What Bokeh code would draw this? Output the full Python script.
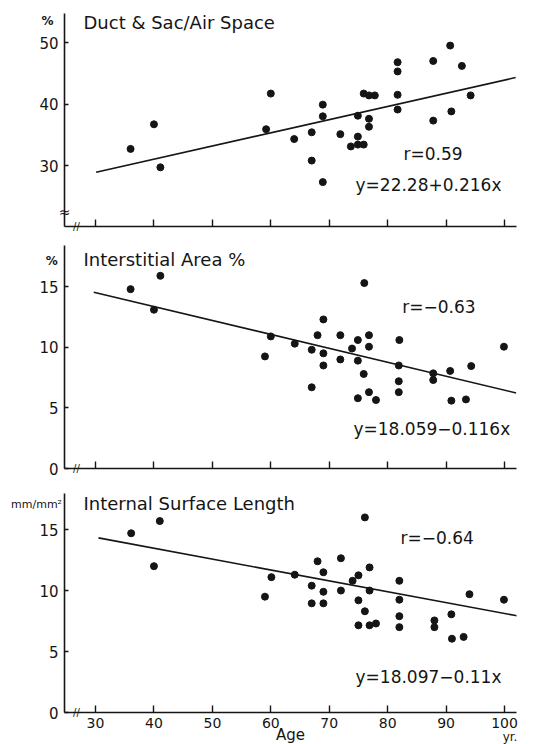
from bokeh.plotting import figure
from bokeh.layouts import column
from bokeh.models import Label, FixedTicker, Range1d, CustomLabelingPolicy
from bokeh.embed import file_html
from bokeh.resources import INLINE

# ---------------- data ----------------
x_ticks = [30, 40, 50, 60, 70, 80, 90, 100]
x_tick_labels = ["30", "40", "50", "60", "70", "80", "90", "100"]

# Panel 1: Duct & Sac / Air Space (%)
p1_age = [36.0, 40.0, 41.1, 59.2, 60.0, 64.0, 67.0, 67.0, 68.9, 68.9, 68.9,
          71.9, 73.7, 74.9, 75.9, 74.9, 74.9, 75.9, 76.8, 77.8, 76.8, 76.8,
          81.7, 81.7, 81.7, 81.7, 87.8, 87.8, 90.7, 90.9, 92.7, 94.2]
p1_val = [32.7, 36.7, 29.7, 35.9, 41.7, 34.3, 35.4, 30.8, 39.9, 38.0, 27.3,
          35.1, 33.1, 33.4, 33.4, 34.7, 38.1, 41.7, 41.4, 41.4, 37.6, 36.3,
          46.8, 45.3, 41.5, 39.1, 47.0, 37.3, 49.5, 38.8, 46.2, 41.4]
p1_fit_age = [30.1, 101.9]
p1_fit_val = [28.9, 44.3]
p1_y_ticks = [30, 40, 50]

# Panel 2: Interstitial Area (%)
p2_age = [36.0, 40.0, 41.1, 59.0, 60.0, 64.1, 67.0, 67.0, 68.0, 69.0, 69.0,
          69.0, 71.9, 71.9, 73.9, 74.9, 74.9, 74.9, 76.0, 75.9, 76.8, 76.8,
          76.8, 78.0, 82.0, 81.9, 81.9, 81.9, 87.8, 87.8, 90.7, 90.9, 93.4,
          94.3, 99.9]
p2_val = [14.8, 13.1, 15.9, 9.25, 10.9, 10.3, 9.8, 6.7, 11.0, 12.3, 9.5,
          8.5, 11.0, 9.0, 9.9, 10.6, 8.9, 5.8, 15.3, 7.8, 11.0, 10.05,
          6.3, 5.65, 10.6, 8.5, 7.2, 6.3, 7.85, 7.3, 8.05, 5.6, 5.7,
          8.45, 10.05]
p2_fit_age = [29.7, 102.0]
p2_fit_val = [14.55, 6.23]
p2_y_ticks = [0, 5, 10, 15]

# Panel 3: Internal Surface Length (mm/mm2)
p3_age = [36.1, 40.0, 41.0, 59.0, 60.1, 64.1, 67.0, 67.0, 68.0, 69.0, 69.0,
          69.0, 72.0, 72.0, 74.0, 75.0, 75.0, 75.0, 76.1, 76.1, 76.9, 76.9,
          76.9, 78.0, 82.0, 82.0, 82.0, 82.0, 88.0, 88.0, 90.9, 91.0, 93.0,
          94.0, 99.9]
p3_val = [14.7, 12.0, 15.7, 9.5, 11.1, 11.3, 10.4, 8.95, 12.4, 11.5, 9.9,
          8.95, 12.65, 10.0, 10.8, 11.25, 9.2, 7.15, 16.0, 8.3, 11.9, 10.0,
          7.15, 7.3, 10.8, 9.25, 7.9, 7.0, 7.55, 7.0, 8.05, 6.05, 6.2,
          9.7, 9.25]
p3_fit_age = [30.5, 102.4]
p3_fit_val = [14.32, 7.91]
p3_y_ticks = [0, 5, 10, 15]

titles = ["Duct & Sac/Air Space", "Interstitial Area %", "Internal Surface Length"]
units = ["%", "%", "mm/mm²"]
r_texts = ["r=0.59", "r=−0.63", "r=−0.64"]
eq_texts = ["y=22.28+0.216x", "y=18.059−0.116x", "y=18.097−0.11x"]
x_label = "Age"
x_unit = "yr."

# ---------------- styling ----------------
FONT = "DejaVu Sans"
INK = "#151515"
X_START, X_END = 24.69, 102.05


def add_text(p, x, y, text, size, align="left", baseline="middle", style="normal",
             place="center"):
    lab = Label(x=x, y=y, text=text, text_font=FONT, text_font_size=size,
                text_font_style=style, text_color=INK, text_align=align,
                text_baseline=baseline)
    p.add_layout(lab, place)


def build(age, val, fit_age, fit_val, y_range, y_ticks, frame_h, top, bottom, last):
    p = figure(title=None, frame_width=452, frame_height=frame_h,
               x_range=Range1d(X_START, X_END), y_range=Range1d(*y_range),
               output_backend="svg", toolbar_location=None,
               min_border_left=64, min_border_right=20,
               min_border_top=top, min_border_bottom=bottom,
               background_fill_color="white", border_fill_color="white")
    p.outline_line_color = None
    p.grid.visible = False
    p.line(fit_age, fit_val, line_color=INK, line_width=1.6)
    p.scatter(age, val, size=7, fill_color=INK, line_color=INK)
    for ax in (p.xaxis[0], p.yaxis[0]):
        ax.axis_line_color = INK
        ax.axis_line_width = 1.6
        ax.major_tick_line_color = INK
        ax.major_tick_line_width = 1.4
        ax.minor_tick_line_color = None
        ax.major_tick_out = 0
        ax.major_label_text_font = FONT
        ax.major_label_text_color = INK
    p.xaxis.ticker = FixedTicker(ticks=x_ticks)
    p.xaxis.major_tick_in = 7
    if last:
        p.xaxis.major_label_overrides = {t: s for t, s in zip(x_ticks, x_tick_labels)}
        p.xaxis.major_label_text_font_size = "14px"
        p.xaxis.major_label_standoff = 5
        p.xaxis.axis_label = x_label
        p.xaxis.axis_label_text_font = FONT
        p.xaxis.axis_label_text_font_size = "15px"
        p.xaxis.axis_label_text_font_style = "normal"
        p.xaxis.axis_label_text_color = INK
        p.xaxis.axis_label_standoff = -5
    else:
        # ticks only: no tick labels on the upper panels
        p.xaxis.major_label_policy = CustomLabelingPolicy(code="return []")
        p.xaxis.major_label_text_font_size = "2px"
        p.xaxis.major_label_standoff = 0
    p.yaxis.ticker = FixedTicker(ticks=y_ticks)
    p.yaxis.major_tick_in = 4
    p.yaxis.major_label_text_font_size = "15px"
    p.yaxis.major_label_standoff = 6
    return p


# panel 1
f1 = build(p1_age, p1_val, p1_fit_age, p1_fit_val, (20.08, 54.72), p1_y_ticks, 213, 13, 10, False)
add_text(f1, 27.94, 53.25, titles[0], "18px")
add_text(f1, 82.7, 31.8, r_texts[0], "17px")
add_text(f1, 74.5, 26.75, eq_texts[0], "17px")
add_text(f1, 21.78, 53.42, units[0], "12px", align="center", style="bold", place="left")
add_text(f1, X_START, 22.36, "≈", "14px", align="center", place="left")
add_text(f1, 26.74, 20.08, "//", "10px", align="center", place="left")

# panel 2
f2 = build(p2_age, p2_val, p2_fit_age, p2_fit_val, (0, 18.40), p2_y_ticks, 223, 9, 12, False)
add_text(f2, 27.94, 17.25, titles[1], "18px")
add_text(f2, 82.5, 13.32, r_texts[1], "17px")
add_text(f2, 74.15, 3.24, eq_texts[1], "17px")
add_text(f2, 22.5, 17.1, units[1], "12px", align="center", style="bold", place="left")
add_text(f2, 26.74, 0, "//", "10px", align="center", place="left")

# panel 3 (texts outside its frame go in side panels, where they are not clipped)
f3 = build(p3_age, p3_val, p3_fit_age, p3_fit_val, (0, 17.96), p3_y_ticks, 219, 13, 32, True)
add_text(f3, 27.94, 17.13, titles[2], "18px")
add_text(f3, 82.2, 14.34, r_texts[2], "17px")
add_text(f3, 74.5, 2.93, eq_texts[2], "17px")
add_text(f3, 19.9, 17.05, units[2], "11px", align="center", place="above")
add_text(f3, 26.74, 0, "//", "10px", align="center", place="left")
add_text(f3, 100.94, -2.0, x_unit, "12px", align="center", baseline="alphabetic", place="right")

layout = column(f1, f2, f3, spacing=0)
open("out.html", "w").write(file_html(layout, INLINE))
